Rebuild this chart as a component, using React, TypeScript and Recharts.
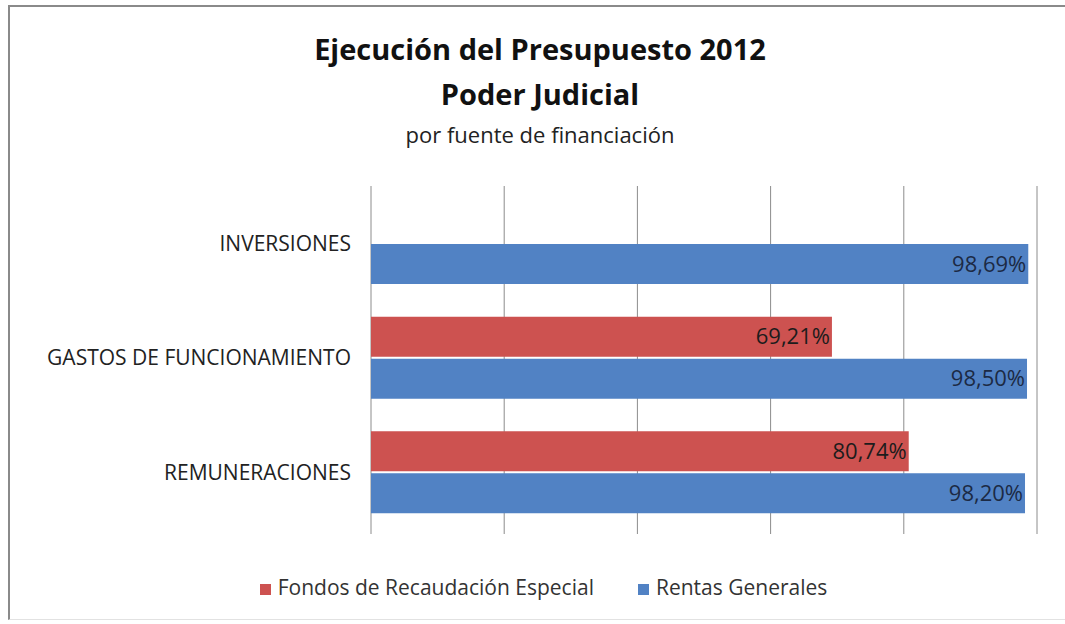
import { BarChart, Bar, XAxis, YAxis, CartesianGrid, Legend, LabelList } from 'recharts'

const categories = ['INVERSIONES', 'GASTOS DE FUNCIONAMIENTO', 'REMUNERACIONES']
const fondosEspecial = [null, 0.6921, 0.8074]
const rentasGenerales = [0.9869, 0.985, 0.982]
const gridTicks = [0, 0.2, 0.4, 0.6, 0.8, 1]

const data = categories.map((c, i) => ({ cat: c, fondos: fondosEspecial[i], rentas: rentasGenerales[i] }))

const FONT = '"Open Sans", "Noto Sans", sans-serif'
const pct = (v: any) => (v == null ? '' : (v * 100).toFixed(2).replace('.', ',') + '%')

export default function App() {
  return (
    <div style={{ position: 'fixed', left: 0, top: 0, width: 1065, height: 624, overflow: 'hidden', background: '#fff', fontFamily: FONT }}>
      <div style={{ position: 'absolute', left: 8, top: 5, width: 1055, height: 612, borderLeft: '2px solid #8a8a8a', borderTop: '2px solid #8a8a8a', borderBottom: '1px solid #e2e2e2' }} />
      <div style={{ position: 'absolute', left: 0, width: 1080, top: 26, textAlign: 'center', color: '#111' }}>
        <div style={{ fontSize: 29, fontWeight: 700, lineHeight: '45px' }}>Ejecución del Presupuesto 2012</div>
        <div style={{ fontSize: 29, fontWeight: 700, lineHeight: '45px' }}>Poder Judicial</div>
        <div style={{ fontSize: 22, lineHeight: '36px', color: '#222' }}>por fuente de financiación</div>
      </div>
      <div style={{ position: 'absolute', left: 0, top: 0 }}>
        <BarChart width={1065} height={624} data={data} layout="vertical"
          margin={{ top: 186, right: 28, left: 11, bottom: 58 }} barSize={40} barGap={2}>
          <CartesianGrid horizontal={false} stroke="#8c8c8c" />
          <XAxis type="number" domain={[0, 1]} ticks={gridTicks} tickFormatter={() => ''}
            axisLine={false} tickLine={{ stroke: '#8c8c8c' }} tickSize={4} height={8} />
          <YAxis type="category" dataKey="cat" width={360} axisLine={false} tickLine={false}
            tick={{ fill: '#222', fontSize: 21, fontFamily: FONT }} tickMargin={14} />
          <Legend verticalAlign="bottom" iconType="square" iconSize={11}
            wrapperStyle={{ top: 573, bottom: 'auto', left: 16, width: 1065, fontSize: 21, fontFamily: FONT }}
            formatter={(v) => (
              <span style={{ color: '#333', paddingLeft: 3, marginRight: v === 'Rentas Generales' ? 0 : 34 }}>{v}</span>
            )} />
          <Bar dataKey="fondos" name="Fondos de Recaudación Especial" fill="#CD5250" isAnimationActive={false}>
            <LabelList dataKey="fondos" position="insideRight" offset={2} formatter={pct}
              style={{ fill: '#1c1c1c', fontSize: 22, fontFamily: FONT }} />
          </Bar>
          <Bar dataKey="rentas" name="Rentas Generales" fill="#5182C4" isAnimationActive={false}>
            <LabelList dataKey="rentas" position="insideRight" offset={2} formatter={pct}
              style={{ fill: '#1c2a44', fontSize: 22, fontFamily: FONT }} />
          </Bar>
        </BarChart>
      </div>
    </div>
  )
}
